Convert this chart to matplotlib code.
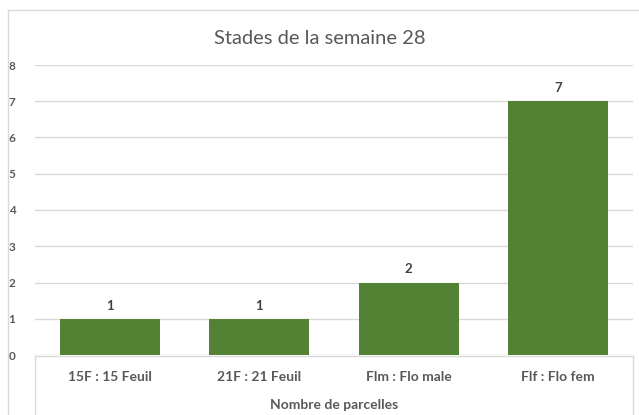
import matplotlib.pyplot as plt
from matplotlib.lines import Line2D

categories = ["15F : 15 Feuil", "21F : 21 Feuil", "Flm : Flo male", "Flf : Flo fem"]
counts = [1, 1, 2, 7]
yticks = [0, 1, 2, 3, 4, 5, 6, 7, 8]

plt.rcParams['font.family'] = ['Lato', 'DejaVu Sans']

W, H = 639, 415
fig = plt.figure(figsize=(W / 100, H / 100), dpi=100)
ax = fig.add_axes([35 / W, 1 - 355 / H, (633 - 35) / W, (355 - 65) / H])

x = range(len(categories))
ax.bar(x, counts, width=0.67, color="#548235", zorder=3)
for i, v in zip(x, counts):
    ax.text(i, v + 0.2, str(v), ha="center", va="bottom", fontsize=9.5,
            fontweight="bold", color="#404040")

ax.set_xlim(-0.5, len(categories) - 0.5)
ax.set_ylim(0, 8)
ax.set_yticks(yticks)
ax.set_yticklabels([str(t) for t in yticks], fontsize=8.5, fontweight="bold", color="#595959")
ax.tick_params(axis="y", length=0, pad=14)
ax.set_xticks([])
ax.grid(axis="y", color="#d9d9d9", linewidth=1, zorder=0)
for s in ax.spines.values():
    s.set_visible(False)

# category labels and axis title below the box
for i, c in enumerate(categories):
    ax.text(i, -0.62, c, ha="center", va="center", fontsize=10,
            fontweight="bold", color="#595959")
fig.text(334 / W, 1 - 405 / H, "Nombre de parcelles", ha="center", va="center",
         fontsize=10, fontweight="bold", color="#595959")

fig.text(320 / W, 1 - 38 / H, "Stades de la semaine 28", ha="center", va="center",
         fontsize=14.5, color="#595959")

# box lines under the axis and outer chart frame
def fl(xs, ys):
    fig.add_artist(Line2D([p / W for p in xs], [1 - p / H for p in ys],
                          color="#d9d9d9", linewidth=1))

fl([35, 633], [355.5, 355.5])
fl([35, 35], [355.5, 415])
fl([633, 633], [355.5, 415])
fl([7.5, 7.5], [10.5, 415])
fl([7.5, 639], [10.5, 10.5])

fig.savefig("out.png", dpi=100)
